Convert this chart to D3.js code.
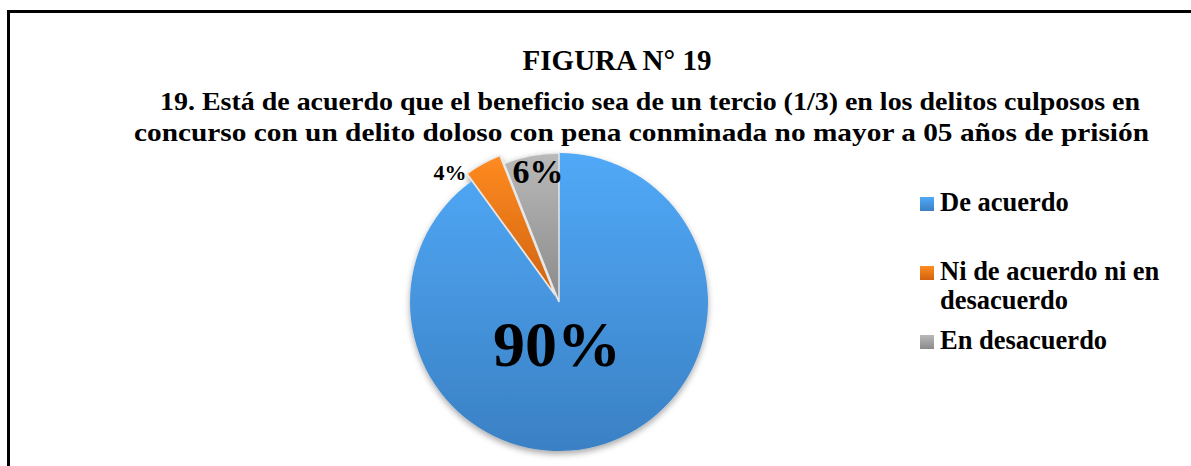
<!DOCTYPE html>
<html lang="es">
<head>
<meta charset="UTF-8"/>
<title>Figura 19</title>
<script src="https://d3js.org/d3.v7.min.js"></script>
<style>
  body { margin: 0; background: #fff; }
  text { font-family: "Liberation Serif", "Times New Roman", serif; font-weight: bold; fill: #000; }
</style>
</head>
<body>
<div id="chart"></div>
<script>
    let width = 1191;
    let height = 466;

    // data
    var categories = ["De acuerdo", "Ni de acuerdo ni en desacuerdo", "En desacuerdo"];
    var values = [90, 4, 6];
    var labels = ["90%", "4%", "6%"];
    var legendLines = [["De acuerdo"], ["Ni de acuerdo ni en", "desacuerdo"], ["En desacuerdo"]];

    var colors = ["#4a9be2", "#f07f1e", "#a9a9a9"];
    var darks = ["#3a80c4", "#d0630f", "#8a8a8a"];

    var svg = d3.select("#chart").append("svg").attr("width", width).attr("height", height);

    // outer frame (runs past the right and bottom edges)
    svg.append("rect").attr("x", 8.5).attr("y", 11.5).attr("width", 1200).attr("height", 480)
        .attr("fill", "none").attr("stroke", "#000").attr("stroke-width", 3);

    svg.append("text").attr("x", 617).attr("y", 70).attr("text-anchor", "middle")
        .style("font-size", "29px").text("FIGURA N° 19");
    // subtitle, stretched to the widths seen in the picture
    svg.append("text").attr("x", 160).attr("y", 110)
        .style("font-size", "26px")
        .attr("textLength", 980).attr("lengthAdjust", "spacingAndGlyphs")
        .text("19. Está de acuerdo que el beneficio sea de un tercio (1/3) en los delitos culposos en");
    svg.append("text").attr("x", 134).attr("y", 141)
        .style("font-size", "26px")
        .attr("textLength", 1015).attr("lengthAdjust", "spacingAndGlyphs")
        .text("concurso con un delito doloso con pena conminada no mayor a 05 años de prisión");

    var defs = svg.append("defs");
    colors.forEach(function (c, i) {
        var g = defs.append("linearGradient").attr("id", "grad" + i)
            .attr("x1", 0).attr("y1", 0).attr("x2", 0).attr("y2", 1);
        g.append("stop").attr("offset", "0%").attr("stop-color", d3.color(c).brighter(0.25));
        g.append("stop").attr("offset", "100%").attr("stop-color", darks[i]);
    });
    var sh = defs.append("filter").attr("id", "shadow").attr("x", "-10%").attr("y", "-10%")
        .attr("width", "120%").attr("height", "125%");
    sh.append("feDropShadow").attr("dx", 0).attr("dy", 3).attr("stdDeviation", 3)
        .attr("flood-color", "#000").attr("flood-opacity", 0.35);

    var cx = 559, cy = 302, r = 149;
    var pie = d3.pie().sort(null).value(function (d) { return d; });
    var arcs = pie(values);
    var arc = d3.arc().innerRadius(0).outerRadius(r);

    var g = svg.append("g").attr("transform", "translate(" + cx + "," + cy + ")")
        .attr("filter", "url(#shadow)");
    g.selectAll("path").data(arcs).enter().append("path")
        .attr("d", arc)
        .attr("transform", function (d, i) {
            if (i !== 1) return null;
            var a = (d.startAngle + d.endAngle) / 2, off = 9;
            return "translate(" + (Math.sin(a) * off) + "," + (-Math.cos(a) * off) + ")";
        })
        .attr("fill", function (d, i) { return "url(#grad" + i + ")"; })
        .attr("stroke", function (d, i) { return i === 0 ? "none" : "#e8e8e8"; })
        .attr("stroke-width", 1.5);

    // slice labels
    var labelPos = [[557, 366, 64], [450, 180, 22], [538, 183, 34]];
    svg.selectAll(".lbl").data(labels).enter().append("text").attr("class", "lbl")
        .attr("x", function (d, i) { return labelPos[i][0]; })
        .attr("y", function (d, i) { return labelPos[i][1]; })
        .attr("text-anchor", "middle")
        .style("font-size", function (d, i) { return labelPos[i][2] + "px"; })
        .text(function (d) { return d; });

    // legend
    var legY = [211, 280, 349];
    var leg = svg.selectAll(".leg").data(categories).enter().append("g").attr("class", "leg")
        .attr("transform", function (d, i) { return "translate(920," + legY[i] + ")"; });
    leg.append("rect").attr("x", 0).attr("y", -14).attr("width", 14).attr("height", 14)
        .attr("fill", function (d, i) { return "url(#grad" + i + ")"; });
    leg.append("text").attr("x", 20).attr("y", 0).style("font-size", "26.5px")
        .each(function (d, i) {
            var t = d3.select(this);
            legendLines[i].forEach(function (line, k) {
                t.append("tspan").attr("x", 20).attr("dy", k === 0 ? 0 : 29).text(line);
            });
        });
</script>
</body>
</html>
